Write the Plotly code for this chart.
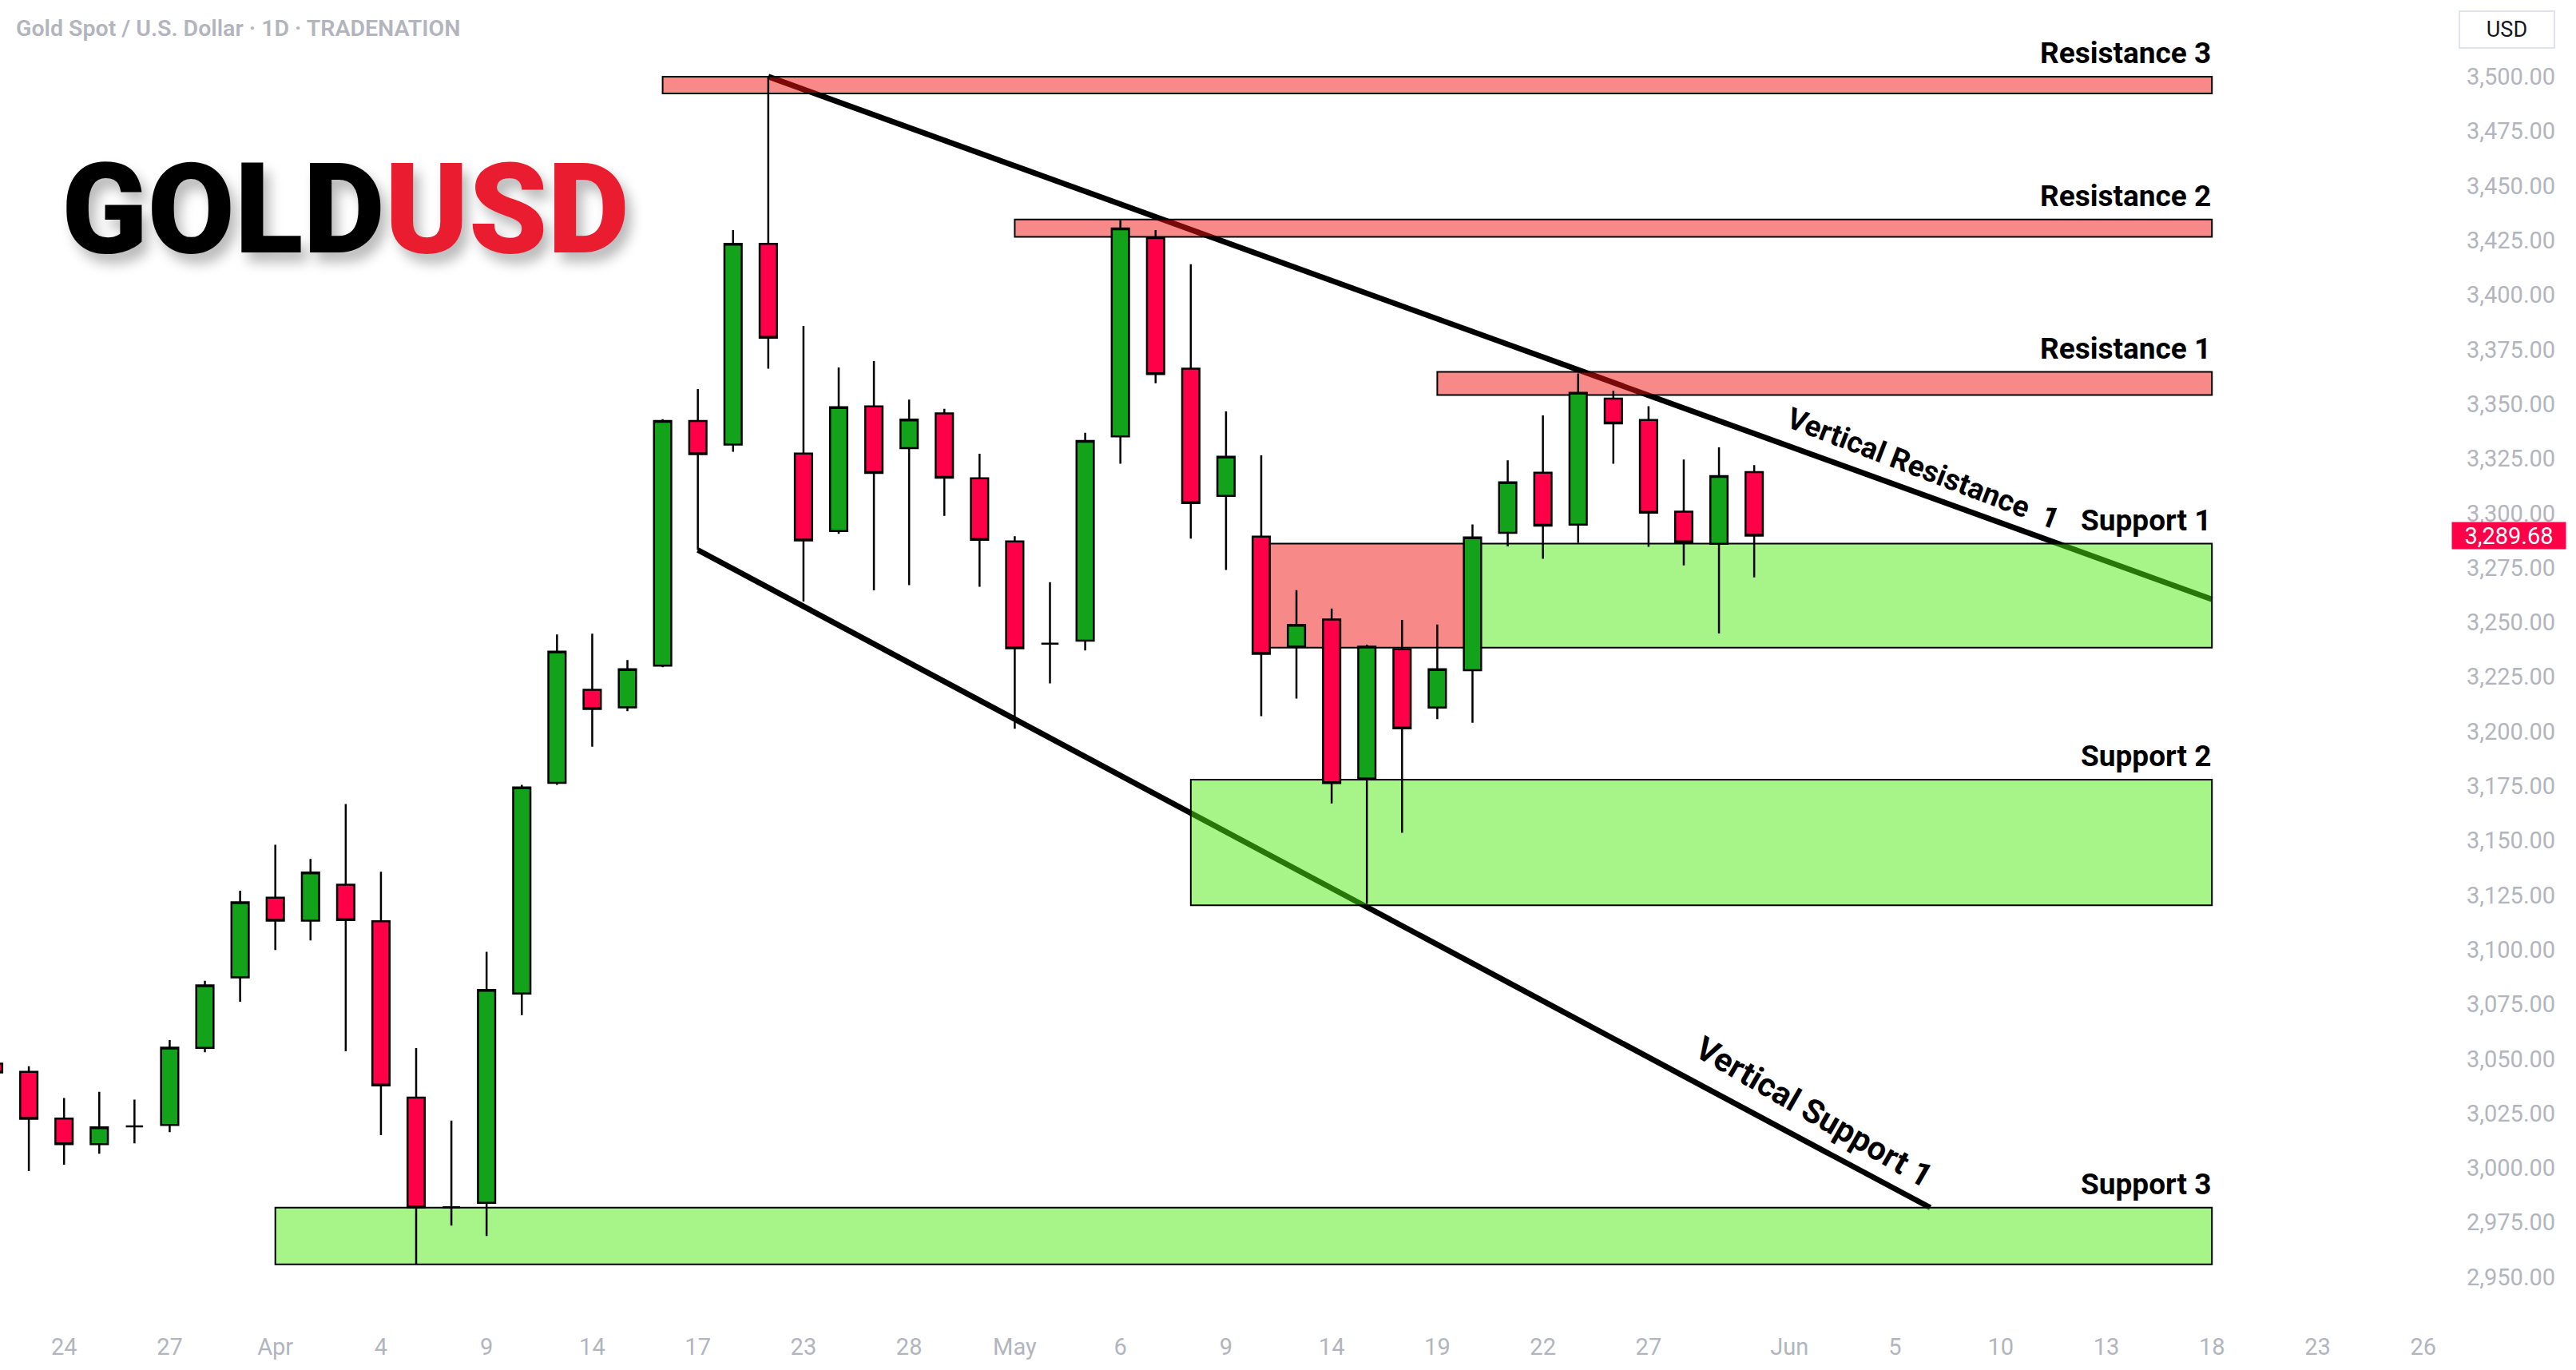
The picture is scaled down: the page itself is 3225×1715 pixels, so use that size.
import plotly.graph_objects as go
import pandas as pd

# ---------------- data ----------------
dates = [
    "2025-03-20", "2025-03-21", "2025-03-24", "2025-03-25", "2025-03-26", "2025-03-27", "2025-03-28",
    "2025-03-31", "2025-04-01", "2025-04-02", "2025-04-03", "2025-04-04", "2025-04-07", "2025-04-08",
    "2025-04-09", "2025-04-10", "2025-04-11", "2025-04-14", "2025-04-15", "2025-04-16", "2025-04-17",
    "2025-04-21", "2025-04-22", "2025-04-23", "2025-04-24", "2025-04-25", "2025-04-28", "2025-04-29",
    "2025-04-30", "2025-05-01", "2025-05-02", "2025-05-05", "2025-05-06", "2025-05-07", "2025-05-08",
    "2025-05-09", "2025-05-12", "2025-05-13", "2025-05-14", "2025-05-15", "2025-05-16", "2025-05-19",
    "2025-05-20", "2025-05-21", "2025-05-22", "2025-05-23", "2025-05-26", "2025-05-27", "2025-05-28",
    "2025-05-29", "2025-05-30",
]
opens = [3047.8, 3044.0, 3022.6, 3010.9, 3019.0, 3019.7, 3055.0, 3087.3, 3123.8, 3113.3, 3129.8, 3113.0,
         3032.2, 2982.0, 2984.0, 3079.9, 3176.4, 3219.1, 3211.0, 3230.1, 3342.2, 3331.4, 3423.4, 3327.3,
         3291.8, 3348.9, 3329.8, 3345.7, 3316.0, 3287.0, 3240.2, 3241.6, 3335.2, 3426.0, 3366.2, 3307.9,
         3289.2, 3238.8, 3251.3, 3178.4, 3237.6, 3210.9, 3228.0, 3291.0, 3318.5, 3294.7, 3352.5, 3342.7,
         3300.7, 3285.9, 3318.8]
highs = [3057.0, 3046.6, 3032.0, 3034.9, 3031.3, 3058.6, 3085.7, 3127.0, 3148.1, 3141.6, 3166.7, 3135.7,
         3054.9, 3021.7, 3099.0, 3175.5, 3244.4, 3244.8, 3232.7, 3343.0, 3356.9, 3429.7, 3500.0, 3385.8,
         3366.7, 3369.7, 3352.0, 3347.8, 3327.2, 3289.4, 3268.4, 3336.8, 3434.1, 3429.7, 3414.0, 3346.6,
         3326.5, 3264.7, 3256.3, 3239.7, 3251.1, 3249.0, 3294.8, 3324.2, 3344.8, 3364.0, 3356.0, 3349.0,
         3324.6, 3330.1, 3322.0]
lows = [3030.0, 2998.5, 3001.5, 3006.5, 3011.3, 3016.4, 3053.0, 3076.1, 3099.8, 3104.2, 3053.4, 3015.0,
        2955.6, 2973.6, 2968.8, 3070.0, 3175.5, 3193.0, 3209.3, 3229.4, 3283.1, 3328.1, 3366.2, 3259.5,
        3290.5, 3264.6, 3267.0, 3298.8, 3266.3, 3201.2, 3222.0, 3237.1, 3322.6, 3359.5, 3288.3, 3274.0,
        3207.0, 3215.0, 3167.0, 3121.0, 3153.5, 3205.6, 3204.0, 3284.8, 3279.1, 3286.4, 3322.6, 3284.6,
        3276.1, 3244.9, 3270.6]
closes = [3043.7, 3022.5, 3010.9, 3018.6, 3019.0, 3055.1, 3083.6, 3121.7, 3113.3, 3135.3, 3113.6, 3037.8,
          2982.0, 2982.0, 3081.5, 3174.3, 3236.5, 3210.3, 3228.5, 3342.2, 3327.0, 3423.4, 3380.4, 3287.5,
          3348.5, 3318.4, 3342.9, 3316.2, 3287.8, 3238.1, 3240.2, 3333.1, 3430.4, 3363.7, 3304.6, 3325.8,
          3235.5, 3248.8, 3176.3, 3238.8, 3201.4, 3228.5, 3288.9, 3314.1, 3294.3, 3355.1, 3341.1, 3300.2,
          3286.7, 3317.0, 3289.68]
last_price = 3289.68

tick_dates = ["2025-03-24", "2025-03-27", "2025-04-01", "2025-04-04", "2025-04-09", "2025-04-14",
              "2025-04-17", "2025-04-23", "2025-04-28", "2025-05-01", "2025-05-06", "2025-05-09",
              "2025-05-14", "2025-05-19", "2025-05-22", "2025-05-27", "2025-06-02", "2025-06-05",
              "2025-06-10", "2025-06-13", "2025-06-18", "2025-06-23", "2025-06-26"]
tick_text = ["24", "27", "Apr", "4", "9", "14", "17", "23", "28", "May", "6", "9", "14", "19", "22", "27",
             "Jun", "5", "10", "13", "18", "23", "26"]
price_ticks = [2950, 2975, 3000, 3025, 3050, 3075, 3100, 3125, 3150, 3175, 3200, 3225, 3250, 3275, 3300,
               3325, 3350, 3375, 3400, 3425, 3450, 3475, 3500]

# zones: label, start, end, low, high, kind
zone_names = ["Resistance 3", "Resistance 2", "Resistance 1", "Support 1", None, "Support 2", "Support 3"]
zone_start = ["2025-04-16", "2025-05-01", "2025-05-19", "2025-05-20", "2025-05-12", "2025-05-08", "2025-04-01"]
zone_end = ["2025-06-18", "2025-06-18", "2025-06-18", "2025-06-18", "2025-05-20", "2025-06-18", "2025-06-18"]
zone_low = [3492.3, 3426.6, 3354.1, 3238.4, 3238.4, 3120.3, 2955.8]
zone_high = [3500.0, 3434.5, 3364.7, 3286.0, 3286.0, 3177.9, 2981.8]
zone_kind = ["res", "res", "res", "sup", "res", "sup", "sup"]

# trend lines: label, start date, start price, end date, end price
trend_names = ["Vertical Resistance\u00a0\u00a01", "Vertical Support 1"]
trend_start = ["2025-04-22", "2025-04-17"]
trend_p0 = [3500.0, 3283.1]
trend_end = ["2025-06-18", "2025-06-06"]
trend_p1 = [3260.5, 2981.8]

# ---------------- helpers ----------------
calendar = [d.strftime("%Y-%m-%d") for d in pd.bdate_range("2025-03-17", "2025-07-15")
            if d.strftime("%Y-%m-%d") != "2025-04-18"]
origin = calendar.index("2025-03-24")


def pos(d):
    return calendar.index(d) - origin


x_pos = [pos(d) for d in dates]

RED_FILL = "rgba(242, 20, 20, 0.5)"
GREEN_FILL = "rgba(80, 233, 20, 0.5)"
GRAY = "#B2B5BE"

fig = go.Figure()
fig.add_trace(go.Candlestick(
    x=x_pos, open=opens, high=highs, low=lows, close=closes,
    increasing=dict(line=dict(color="#000000", width=2.5), fillcolor="#13A31A"),
    decreasing=dict(line=dict(color="#000000", width=2.5), fillcolor="#FF0048"),
    whiskerwidth=0, hoverinfo="skip", showlegend=False,
))

shapes = []
for i in range(len(trend_names)):
    shapes.append(dict(type="line", xref="x", yref="y", layer="below",
                       x0=pos(trend_start[i]), y0=trend_p0[i], x1=pos(trend_end[i]), y1=trend_p1[i],
                       line=dict(color="#000000", width=7)))
for i in range(len(zone_names)):
    shapes.append(dict(type="rect", xref="x", yref="y", layer="below",
                       x0=pos(zone_start[i]), x1=pos(zone_end[i]), y0=zone_low[i], y1=zone_high[i],
                       fillcolor=RED_FILL if zone_kind[i] == "res" else GREEN_FILL,
                       line=dict(color="#000000", width=2)))

annotations = []
for i in range(len(zone_names)):
    if zone_names[i] is None:
        continue
    annotations.append(dict(xref="x", yref="y", x=pos(zone_end[i]), y=zone_high[i], xanchor="right",
                            yanchor="bottom", yshift=6, xshift=1, showarrow=False, text=zone_names[i],
                            font=dict(family="Roboto", size=37, color="#000000", weight="bold")))

# trend line captions
annotations.append(dict(xref="x", yref="y", x=52.8, y=3320.4, showarrow=False, textangle=21,
                        text=trend_names[0], xanchor="center", yanchor="middle",
                        font=dict(family="Roboto", size=37, color="#000000", weight="bold")))
annotations.append(dict(xref="x", yref="y", x=49.7, y=3025.5, showarrow=False, textangle=30,
                        text=trend_names[1], xanchor="center", yanchor="middle",
                        font=dict(family="Roboto", size=41, color="#000000", weight="bold")))

PLOT_W = 3065.0
PLOT_H = 1650.0
# header
annotations.append(dict(xref="paper", yref="paper", x=18 / PLOT_W, y=1 - 35 / PLOT_H, xanchor="left",
                        yanchor="middle", showarrow=False,
                        text="Gold Spot / U.S. Dollar · 1D · TRADENATION",
                        font=dict(family="Roboto", size=28.5, color=GRAY, weight=600)))
# logo
annotations.append(dict(xref="paper", yref="paper", x=432 / PLOT_W, y=1 - 262 / PLOT_H, xanchor="center",
                        yanchor="middle", showarrow=False,
                        text="GOLD<span style='color:#EA1C30'>USD</span>",
                        font=dict(family="Roboto", size=158, color="#000000", weight=900,
                                  shadow="8px 12px 16px rgba(0,0,0,0.28)")))
# currency box
annotations.append(dict(xref="paper", yref="paper", x=3138.5 / PLOT_W, y=1 - 37 / PLOT_H, xanchor="center",
                        yanchor="middle", showarrow=False, text="USD", width=115, height=42,
                        bordercolor="#E0E3EB", borderwidth=2, bgcolor="#FFFFFF",
                        font=dict(family="Roboto", size=27, color="#131722")))
# last price label
annotations.append(dict(xref="paper", yref="y", x=1 + 4 / PLOT_W, y=last_price, xanchor="left",
                        yanchor="middle", showarrow=False, text=f"{last_price:,.2f}", width=142, height=33,
                        bgcolor="#FF0048", borderpad=0,
                        font=dict(family="Roboto", size=29, color="#FFFFFF")))

fig.update_layout(
    width=3225, height=1715,
    margin=dict(l=0, r=160, t=0, b=65),
    paper_bgcolor="#FFFFFF", plot_bgcolor="#FFFFFF",
    shapes=shapes, annotations=annotations, showlegend=False,
    xaxis=dict(range=[-1.819, 67.71], tickvals=[pos(d) for d in tick_dates], ticktext=tick_text,
               showgrid=False, zeroline=False, showline=False, ticks="", rangeslider=dict(visible=False),
               tickfont=dict(family="Roboto", size=29, color=GRAY), ticklabelstandoff=16, fixedrange=True),
    yaxis=dict(range=[2931.2, 3535.1], side="right", tickvals=price_ticks, tickformat=",.2f",
               showgrid=False, zeroline=False, showline=False, ticks="",
               tickfont=dict(family="Roboto", size=29, color=GRAY), ticklabelstandoff=22, fixedrange=True),
)

fig.write_html("out.html")
